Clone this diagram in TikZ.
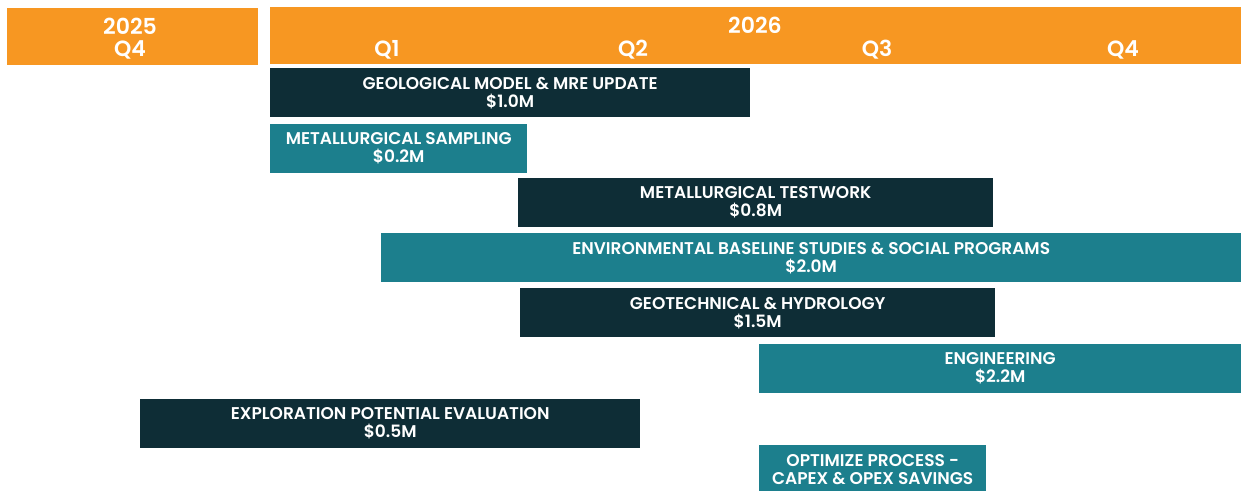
\documentclass[tikz,border=0pt]{standalone}
\usepackage{fontspec}
\setmainfont{Poppins}[BoldFont={Poppins SemiBold}]
\usepackage{tikz}
\usetikzlibrary{positioning}
\definecolor{arancio}{RGB}{247,151,34}
\definecolor{petrolio}{RGB}{14,45,54}
\definecolor{ottanio}{RGB}{28,127,141}
\tikzset{
  gantt/.style={
    year box/.style={fill=arancio, inner sep=0pt, anchor=north west},
    head label/.style={text=white, font={\bfseries\fontsize{22}{24}\selectfont}},
    task/.style={anchor=north west, inner sep=0pt, minimum height=49pt,
        text=white, align=center, font={\bfseries\fontsize{17}{18}\selectfont}},
    dark/.style={task, fill=petrolio},
    light/.style={task, fill=ottanio},
  }
}

\begin{document}
\begin{tikzpicture}[gantt, x=1pt, y=-1pt]
    \useasboundingbox (0,0) rectangle (1241,490);
    \clip (0,0) rectangle (1241,490);

    % header
    \node[year box, minimum width=251pt, minimum height=57pt] (y2025) at (7,8) {};
    \node[year box, minimum width=971pt, minimum height=57pt] (y2026) at (270,7) {};
    \node[head label] (t2025) at (130,26) {2025};
    \node[head label] (t2026) at (755,25) {2026};
    \foreach \n/\x/\q in {q0/130/Q4, q1/387/Q1, q2/633/Q2, q3/877/Q3, q4/1123/Q4}
        \node[head label] (\n) at (\x,50) {\q};

    % tasks
    \foreach \n/\x/\y/\w/\s/\t in {
        geomodel/270/68/480/dark/{GEOLOGICAL MODEL \& MRE UPDATE\\\$1.0M},
        metsampling/270/124/257/light/{METALLURGICAL SAMPLING\\\$0.2M},
        mettest/518/178/475/dark/{METALLURGICAL TESTWORK\\\$0.8M},
        envbase/381/233/860/light/{ENVIRONMENTAL BASELINE STUDIES \& SOCIAL PROGRAMS\\\$2.0M},
        geotech/520/288/475/dark/{GEOTECHNICAL \& HYDROLOGY\\\$1.5M},
        engineering/759/344/482/light/{ENGINEERING\\\$2.2M},
        exploration/140/399/500/dark/{EXPLORATION POTENTIAL EVALUATION\\\$0.5M},
        optimize/759/445/227/light/{OPTIMIZE PROCESS -\\CAPEX \& OPEX SAVINGS}}
    {
        \node[\s, minimum width=\w pt] (\n) at (\x,\y) {\t};
    }
\end{tikzpicture}
\end{document}
